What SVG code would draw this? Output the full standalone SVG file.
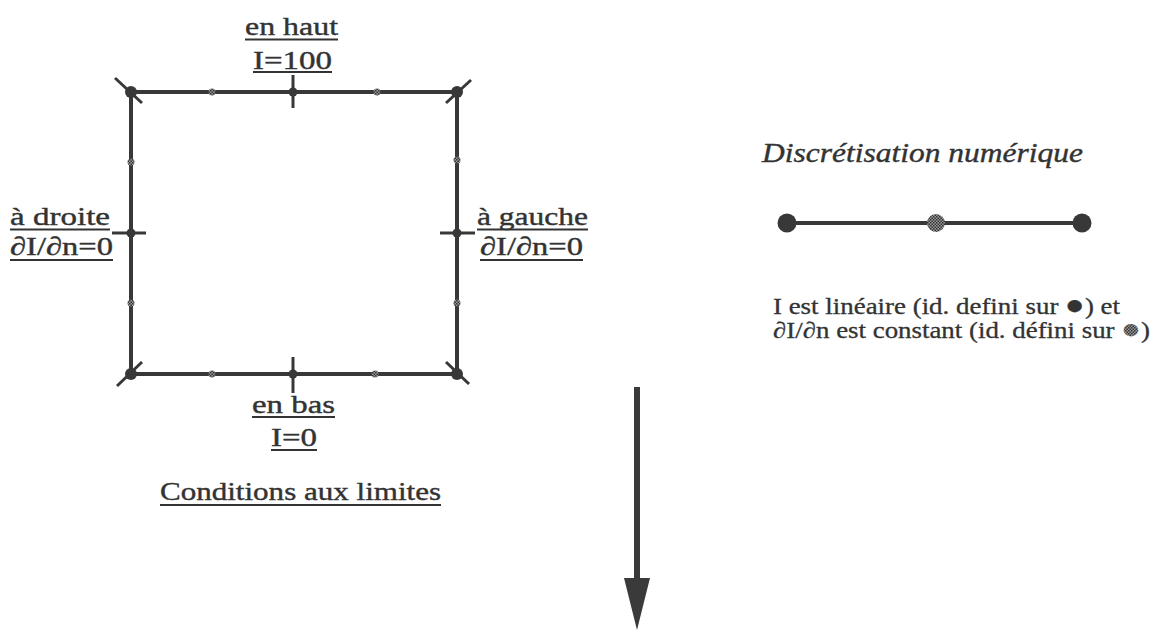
<svg xmlns="http://www.w3.org/2000/svg" width="1157" height="630" viewBox="0 0 1157 630">
<style>
.t{font-family:"Liberation Serif","Times New Roman",serif;font-size:26px;fill:#333;stroke:#333;stroke-width:0.4}
.ts{font-family:"Liberation Serif","Times New Roman",serif;font-size:23px;fill:#333;stroke:#333;stroke-width:0.3}
.ti{font-family:"Liberation Serif","Times New Roman",serif;font-size:28px;font-style:italic;fill:#333;stroke:#333;stroke-width:0.4}
.ln{stroke:#383838;stroke-width:4;fill:none;stroke-linecap:butt}
.tk{stroke:#383838;stroke-width:3;fill:none}
.ul{stroke:#333;stroke-width:2}
.dk{fill:#383838}
.tx{fill:url(#dots)}
.bd{font-size:28px}
</style>
<defs>
<pattern id="dots" width="3" height="3" patternUnits="userSpaceOnUse">
<rect width="3" height="3" fill="#9a9a9a"/>
<rect width="1.5" height="1.5" fill="#333"/>
<rect x="1.5" y="1.5" width="1.5" height="1.5" fill="#333"/>
</pattern>
</defs>
<rect width="1157" height="630" fill="#fff"/>

<g id="square">
<rect x="131" y="92" width="326" height="282" class="ln"/>
<line x1="115" y1="78" x2="142" y2="103" class="tk"/>
<line x1="471" y1="80" x2="446" y2="103" class="tk"/>
<line x1="117" y1="386" x2="142" y2="362" class="tk"/>
<line x1="446" y1="362" x2="469" y2="384" class="tk"/>
<circle cx="131" cy="92" r="6" class="dk"/>
<circle cx="457" cy="92" r="6" class="dk"/>
<circle cx="131" cy="374" r="6" class="dk"/>
<circle cx="457" cy="374" r="6" class="dk"/>
<line x1="293" y1="75" x2="293" y2="108" class="tk"/>
<line x1="293" y1="357" x2="293" y2="393" class="tk"/>
<line x1="112" y1="233" x2="146" y2="233" class="tk"/>
<line x1="440" y1="233" x2="475" y2="233" class="tk"/>
<circle cx="293" cy="92" r="4.5" class="dk"/>
<circle cx="293" cy="374" r="4.5" class="dk"/>
<circle cx="131" cy="233" r="4.5" class="dk"/>
<circle cx="457" cy="233" r="4.5" class="dk"/>
<circle cx="212" cy="92" r="3.5" class="tx"/>
<circle cx="377" cy="92" r="3.5" class="tx"/>
<circle cx="212" cy="374" r="3.5" class="tx"/>
<circle cx="375" cy="374" r="3.5" class="tx"/>
<circle cx="131" cy="162" r="3.5" class="tx"/>
<circle cx="131" cy="303" r="3.5" class="tx"/>
<circle cx="457" cy="160" r="3.5" class="tx"/>
<circle cx="457" cy="303" r="3.5" class="tx"/>
</g>

<g id="label-haut">
<text class="t" x="245" y="35" textLength="93" lengthAdjust="spacingAndGlyphs">en haut</text>
<line x1="245" y1="39.5" x2="338" y2="39.5" class="ul"/>
<text class="t" x="253" y="69" textLength="79" lengthAdjust="spacingAndGlyphs">I=100</text>
<line x1="253" y1="72" x2="332" y2="72" class="ul"/>
</g>

<g id="label-droite">
<text class="t" x="10" y="225" textLength="100" lengthAdjust="spacingAndGlyphs">à droite</text>
<line x1="10" y1="229.5" x2="110" y2="229.5" class="ul"/>
<text class="t" x="10" y="255" textLength="103" lengthAdjust="spacingAndGlyphs">∂I/∂n=0</text>
<line x1="10" y1="260" x2="113" y2="260" class="ul"/>
</g>

<g id="label-gauche">
<text class="t" x="477" y="225" textLength="111" lengthAdjust="spacingAndGlyphs">à gauche</text>
<line x1="477" y1="229.5" x2="588" y2="229.5" class="ul"/>
<text class="t" x="480" y="255" textLength="103" lengthAdjust="spacingAndGlyphs">∂I/∂n=0</text>
<line x1="480" y1="260" x2="583" y2="260" class="ul"/>
</g>

<g id="label-bas">
<text class="t" x="252" y="413" textLength="83" lengthAdjust="spacingAndGlyphs">en bas</text>
<line x1="252" y1="417" x2="335" y2="417" class="ul"/>
<text class="t" x="271" y="446" textLength="46" lengthAdjust="spacingAndGlyphs">I=0</text>
<line x1="271" y1="450" x2="317" y2="450" class="ul"/>
</g>

<g id="caption-left">
<text class="t" x="160" y="500" textLength="281" lengthAdjust="spacingAndGlyphs">Conditions aux limites</text>
<line x1="160" y1="505" x2="441" y2="505" class="ul"/>
</g>

<g id="discretisation">
<text class="ti" x="762" y="162" textLength="321" lengthAdjust="spacingAndGlyphs">Discrétisation numérique</text>
<line x1="787" y1="223" x2="1082" y2="223" class="ln"/>
<circle cx="787" cy="223" r="9.5" class="dk"/>
<circle cx="1082" cy="223" r="9.5" class="dk"/>
<circle cx="936" cy="223" r="9" class="tx"/>
</g>

<g id="explanation">
<text class="ts" x="773" y="314" textLength="347" lengthAdjust="spacingAndGlyphs">I est linéaire (id. defini sur <tspan class="bd">●</tspan>) et</text>
<text class="ts" x="773" y="338" textLength="377" lengthAdjust="spacingAndGlyphs">∂I/∂n est constant (id. défini sur <tspan class="bd" fill="url(#dots)" stroke="#666">●</tspan>)</text>
</g>

<g id="connectors">
<line x1="637" y1="387" x2="637" y2="582" stroke="#3a3a3a" stroke-width="6"/>
<polygon points="624,578 650,578 637,630" fill="#3a3a3a"/>
</g>
</svg>
